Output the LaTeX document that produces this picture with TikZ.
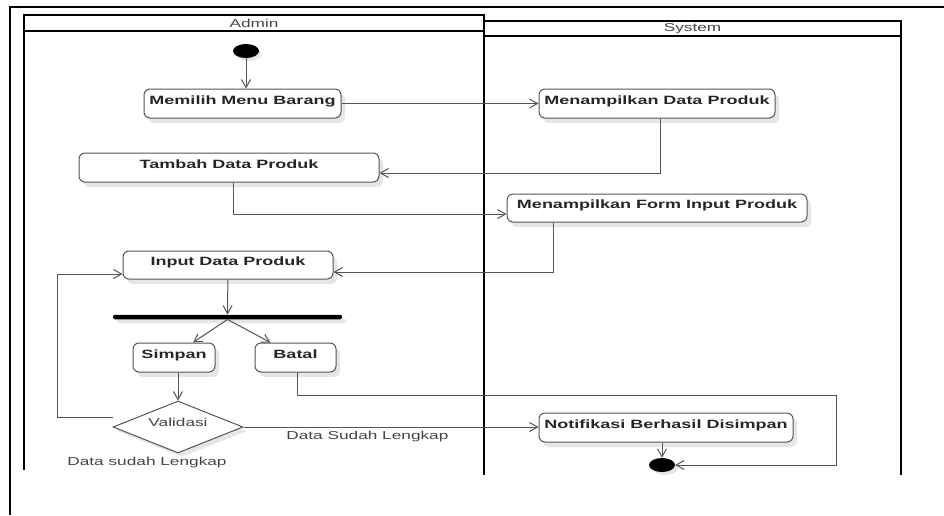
\documentclass[tikz,border=0pt]{standalone}
\usepackage{fontspec}
\newfontfamily\umlfont[FakeStretch=1.5]{Liberation Sans}
\usetikzlibrary{arrows.meta,shapes,shadows,calc}
\definecolor{linegray}{HTML}{555555}
\definecolor{textgray}{HTML}{444444}
\definecolor{shadowgray}{HTML}{E6E6E6}
\tikzset{
    activity/.style = {draw=linegray, line width=1pt, rectangle, rounded corners=6pt, fill=white,
        minimum height=29pt, text height=9pt, text depth=8pt, inner sep=0pt,
        font=\umlfont\bfseries\fontsize{12}{14}\selectfont, text=black!85,
        drop shadow={fill=shadowgray, opacity=1, shadow xshift=4pt, shadow yshift=-5pt}},
    decision/.style = {draw=linegray, line width=1pt, diamond, fill=white, aspect=2.5,
        minimum width=130pt, minimum height=52pt, inner sep=0pt,
        text height=8pt, text depth=10pt, text=textgray,
        font=\umlfont\fontsize{11.5}{13}\selectfont,
        drop shadow={fill=shadowgray, opacity=1, shadow xshift=4pt, shadow yshift=-4pt}},
    initial/.style = {ellipse, fill=black, minimum width=26pt, minimum height=14pt, inner sep=0pt,
        drop shadow={fill=shadowgray, opacity=1, shadow xshift=3pt, shadow yshift=-3pt}},
    final/.style = {initial},
    bar/.style = {rectangle, fill=black, rounded corners=2pt, minimum width=229pt,
        minimum height=4.5pt, inner sep=0pt,
        drop shadow={fill=shadowgray, opacity=1, shadow xshift=4pt, shadow yshift=-4pt}},
    lbl/.style = {text=textgray, font=\umlfont\fontsize{11.5}{13}\selectfont},
    flow/.style = {draw=linegray, line width=1pt, ->},
    lane/.style = {draw=black, line width=2.2pt}
}

\begin{document}
\begin{tikzpicture}[x=1pt, y=-1pt, node distance=50pt, >={Straight Barb[length=8pt,width=9pt]}]
        \useasboundingbox (0,0) rectangle (944,515);
        % frame and swimlanes
        \draw[line width=2.2pt] (10,515) -- (10,7) -- (944,7);
        \draw[lane] (24,470) -- (24,15) -- (484,15) -- (484,475);
        \draw[line width=1.3pt] (24,31) -- (484,31);
        \draw[lane] (484,21) -- (901,21) -- (901,475);
        \draw[line width=1.3pt] (484,36) -- (901,36);
        \node[lbl] (admin) at (254,23) {Admin};
        \node[lbl] (system) at (692.5,29) {System};
        % activities
        \node[initial] (start) at (246,51) {};
        \node[activity, minimum width=197pt, below of=start, node distance=52.5pt, xshift=-3.5pt] (menu) {Memilih Menu Barang};
        \node[activity, minimum width=236pt, right of=menu, node distance=414.5pt] (showdata) {Menampilkan Data Produk};
        \node[activity, minimum width=300pt, below of=menu, node distance=64pt, xshift=-13.5pt] (add) {Tambah Data Produk};
        \node[activity, minimum width=300pt, minimum height=28pt, below of=showdata, node distance=104.5pt] (form) {Menampilkan Form Input Produk};
        \node[activity, minimum width=210pt, minimum height=28pt, below of=add, node distance=97.5pt, xshift=-1pt] (inp) {Input Data Produk};
        \node[bar, below of=inp, node distance=52pt, xshift=-0.5pt] (fork) {};
        \node[activity, minimum width=82pt, below of=fork, node distance=40.5pt, xshift=-53.5pt] (save) {Simpan};
        \node[activity, minimum width=81pt, right of=save, node distance=121.5pt] (cancel) {Batal};
        \node[decision, below of=save, node distance=69.5pt, xshift=4pt] (valid) {Validasi};
        \node[lbl, below of=valid, node distance=36pt, xshift=-31pt] (nolbl) {Data sudah Lengkap};
        \node[activity, minimum width=254pt, right of=valid, node distance=488pt, yshift=-0.5pt] (notif) {Notifikasi Berhasil Disimpan};
        \node[final, below of=notif, node distance=37.5pt, xshift=-4pt] (end) {};
        % flows
        \draw[flow] (start) -- (start |- menu.north);
        \draw[flow] (menu) -- (showdata);
        \draw[flow] ([xshift=3pt]showdata.south) |- ([yshift=-5.5pt]add.east);
        \draw[flow] ([xshift=4pt]add.south) |- ([yshift=-6pt]form.west);
        \draw[flow] ([xshift=-104pt]form.south) |- ([yshift=-7pt]inp.east);
        \draw[flow] (inp) -- (fork);
        \draw[flow] (fork.south) -- ([xshift=19pt]save.north);
        \draw[flow] (fork.south) -- ([xshift=-25pt]cancel.north);
        \draw[flow] (valid.north |- save.south) -- (valid.north);
        \draw[flow] ([yshift=10pt]valid.west) -- ++(-55,0) |- ([yshift=-9pt]inp.west);
        \draw[flow] (valid.east) -- node[lbl, below, pos=0.42] (yeslbl) {Data Sudah Lengkap} (valid.east -| notif.west);
        \draw[flow] ([xshift=2pt]cancel.south) -- ++(0,23) -- ++(539,0) |- (end.east);
        \draw[flow] (end.north |- notif.south) -- (end.north);
\end{tikzpicture}
\end{document}
